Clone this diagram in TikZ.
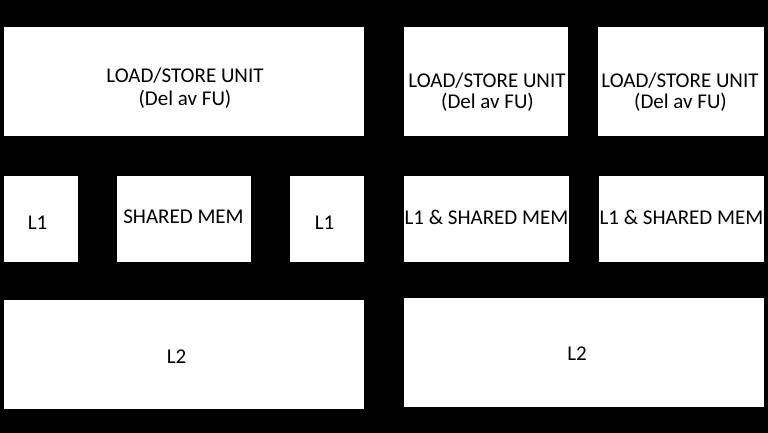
\documentclass[tikz,border=0pt]{standalone}
\usepackage{fontspec}
\setmainfont{Carlito}
\begin{document}
\begin{tikzpicture}[x=1pt,y=-1pt,
  box/.style={fill=white,draw=none},
  txt/.style={anchor=base,inner sep=0pt,text=black,font=\fontsize{21}{25}\selectfont}]
\fill[black] (0,0) rectangle (768,433);
\useasboundingbox (0,0) rectangle (768,433);
% left side
\fill[white] (4,27) rectangle (364,136) coordinate (lsuA);
\fill[white] (4,176) rectangle (78,262);
\fill[white] (117,176) rectangle (251,262);
\fill[white] (290,176) rectangle (364,262);
\fill[white] (4,300) rectangle (364,409);
% right side
\fill[white] (404,27) rectangle (568,136);
\fill[white] (598,27) rectangle (764,136);
\fill[white] (404,176) rectangle (569,262);
\fill[white] (599,176) rectangle (764,262);
\fill[white] (404,298) rectangle (764,407);
% texts
\node[txt] (t1) at (185,83) {LOAD/STORE UNIT};
\node[txt] (t1b) at (185,106) {(Del av FU)};
\node[txt] (t2) at (487,88) {LOAD/STORE UNIT};
\node[txt] (t2b) at (487.5,109) {(Del av FU)};
\node[txt] (t3) at (680,88) {LOAD/STORE UNIT};
\node[txt] (t3b) at (680.5,109) {(Del av FU)};
\node[txt] (l1a) at (37.5,229) {L1};
\node[txt] (sm) at (183.5,223) {SHARED MEM};
\node[txt] (l1b) at (324.5,229) {L1};
\node[txt] (lsm1) at (486.5,224) {L1 \& SHARED MEM};
\node[txt] (lsm2) at (681.5,224) {L1 \& SHARED MEM};
\node[txt] (l2a) at (176.5,363) {L2};
\node[txt] (l2b) at (577,360) {L2};
\end{tikzpicture}
\end{document}
